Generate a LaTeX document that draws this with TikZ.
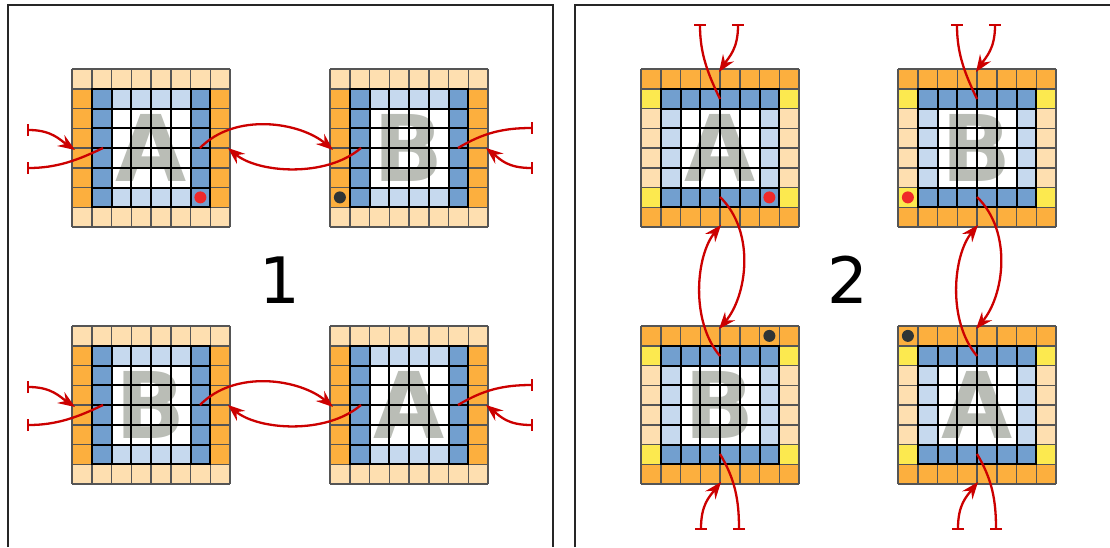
\documentclass[tikz,border=0pt]{standalone}
\usepackage{fontspec}
\newfontfamily\dvs{DejaVu Sans}
\usetikzlibrary{arrows.meta}
\definecolor{lorange}{HTML}{FEDFB0}
\definecolor{morange}{HTML}{FCAF3E}
\definecolor{dblue}{HTML}{729FCF}
\definecolor{lblue}{HTML}{C6D9EE}
\definecolor{butter}{HTML}{FCE94F}
\definecolor{arrred}{HTML}{CC0000}
\definecolor{dotred}{HTML}{EF2929}
\definecolor{dotdark}{HTML}{2E3436}
\definecolor{lettergray}{HTML}{BABDB6}
\definecolor{cellgray}{HTML}{555555}
\def\cellsz{19.75}
\tikzset{
  cellline/.style={draw=cellgray, line width=1.5pt},
  innerline/.style={draw=black, line width=2pt, line cap=rect},
  letterstyle/.style={anchor=base, inner sep=0pt, text=lettergray, font=\dvs\bfseries\fontsize{92}{92}\selectfont},
  numstyle/.style={anchor=base, inner sep=0pt, font=\dvs\fontsize{64}{64}\selectfont},
  flow/.style={draw=arrred, line width=2.3pt},
  link/.style={flow, -{Stealth[length=17pt,width=13pt,inset=6pt]}},
  intip/.style={flow, {Bar[width=12pt]}-{Stealth[length=17pt,width=13pt,inset=6pt]}},
  outbar/.style={flow, -{Bar[width=12pt]}},
  frame/.style={draw=black!85, line width=1.5pt},
  reddot/.style={circle, fill=dotred, minimum size=12pt, inner sep=0pt},
  darkdot/.style={circle, fill=dotdark, minimum size=12pt, inner sep=0pt}
}
\newcommand\blk[7]{\fill[#1] ({#2+#4*\cellsz},{#3+#5*\cellsz}) rectangle ({#2+#6*\cellsz},{#3+#7*\cellsz});}
\newcommand\gridlines[2]{%
  \foreach \k in {0,...,8} {
    \draw[cellline] ({#1+\k*\cellsz},{#2}) -- ({#1+\k*\cellsz},{#2+8*\cellsz});
    \draw[cellline] ({#1},{#2+\k*\cellsz}) -- ({#1+8*\cellsz},{#2+\k*\cellsz});
  }
  \foreach \k in {1,...,7} {
    \draw[innerline] ({#1+\k*\cellsz},{#2+\cellsz}) -- ({#1+\k*\cellsz},{#2+7*\cellsz});
    \draw[innerline] ({#1+\cellsz},{#2+\k*\cellsz}) -- ({#1+7*\cellsz},{#2+\k*\cellsz});
  }
}
\newcommand\gridH[4]{%
  \blk{lorange}{#1}{#2}{0}{0}{8}{8}
  \blk{morange}{#1}{#2}{0}{1}{8}{7}
  \blk{dblue}{#1}{#2}{1}{1}{7}{7}
  \blk{lblue}{#1}{#2}{2}{1}{6}{7}
  \blk{white}{#1}{#2}{2}{2}{6}{6}
  \node[letterstyle] (#4) at ({#1+4*\cellsz},{#2+4*\cellsz+33.5}) {#3};
  \gridlines{#1}{#2}
}
\newcommand\gridV[4]{%
  \blk{morange}{#1}{#2}{0}{0}{8}{8}
  \blk{lorange}{#1}{#2}{0}{1}{8}{7}
  \blk{butter}{#1}{#2}{0}{1}{1}{2}
  \blk{butter}{#1}{#2}{7}{1}{8}{2}
  \blk{butter}{#1}{#2}{0}{6}{1}{7}
  \blk{butter}{#1}{#2}{7}{6}{8}{7}
  \blk{dblue}{#1}{#2}{1}{1}{7}{7}
  \blk{lblue}{#1}{#2}{1}{2}{7}{6}
  \blk{white}{#1}{#2}{2}{2}{6}{6}
  \node[letterstyle] (#4) at ({#1+4*\cellsz},{#2+4*\cellsz+33.5}) {#3};
  \gridlines{#1}{#2}
}
\newcommand\coordsH[3]{%
  \coordinate (#1Lin) at ({#2+3},{#3+81});
  \coordinate (#1Lout) at ({#2+31},{#3+79});
  \coordinate (#1Rout) at ({#2+128},{#3+79});
  \coordinate (#1Rin) at ({#2+156},{#3+79});
  \coordinate (#1barU) at ({#2-45},{#3+61});
  \coordinate (#1barD) at ({#2-45},{#3+99});
  \coordinate (#1barRU) at ({#2+203},{#3+59});
  \coordinate (#1barRD) at ({#2+203},{#3+99});
}
\newcommand\coordsV[3]{%
  \coordinate (#1Tin) at ({#2+78},{#3+3});
  \coordinate (#1Tout) at ({#2+79},{#3+30});
  \coordinate (#1Bout) at ({#2+79},{#3+128});
  \coordinate (#1Bin) at ({#2+80},{#3+156});
  \coordinate (#1barTL) at ({#2+59},{#3-45});
  \coordinate (#1barTR) at ({#2+97},{#3-45});
  \coordinate (#1barBL) at ({#2+60},{#3+204});
  \coordinate (#1barBR) at ({#2+98},{#3+204});
}
% style, x0, y0, col, row, name
\newcommand\celldot[6]{\node[#1] (#6) at ({#2+(#4+0.5)*\cellsz},{#3+(#5+0.5)*\cellsz}) {};}
\begin{document}
\begin{tikzpicture}[x=1pt,y=-1pt]
  \fill[white] (0,0) rectangle (1110,547);
  \useasboundingbox (0,0) rectangle (1110,547);
  % frames
  \draw[frame] (8,547) -- (8,5) -- (553,5) -- (553,547);
  \draw[frame] (575,547) -- (575,5) -- (1110,5);
  % panel 1 grids
  \gridH{72}{69}{A}{LA1}
  \gridH{330}{69}{B}{LB1}
  \gridH{72}{326}{B}{LB2}
  \gridH{330}{326}{A}{LA2}
  % panel 2 grids
  \gridV{641}{69}{A}{LA3}
  \gridV{898}{69}{B}{LB3}
  \gridV{641}{326}{B}{LB4}
  \gridV{898}{326}{A}{LA4}
  % dots
  \celldot{reddot}{72}{69}{6}{6}{d1}
  \celldot{darkdot}{330}{69}{0}{6}{d2}
  \celldot{reddot}{641}{69}{6}{6}{d3}
  \celldot{reddot}{898}{69}{0}{6}{d4}
  \celldot{darkdot}{641}{326}{6}{0}{d5}
  \celldot{darkdot}{898}{326}{0}{0}{d6}
  % numbers
  \node[numstyle] (n1) at (280,303) {1};
  \node[numstyle] (n2) at (848,303) {2};
  % coordinates
  \coordsH{pa}{72}{69}
  \coordsH{pb}{330}{69}
  \coordsH{pc}{72}{326}
  \coordsH{pd}{330}{326}
  \coordsV{qa}{641}{69}
  \coordsV{qb}{641}{326}
  \coordsV{qc}{898}{69}
  \coordsV{qd}{898}{326}
  % panel 1 connectors
  \foreach \u/\w in {pa/pb, pc/pd} {
    \draw[intip] (\u barU) .. controls +(25,0) and +(-15,-10) .. (\u Lin);
    \draw[outbar] (\u Lout) .. controls +(-25,12) and +(30,0) .. (\u barD);
    \draw[link] (\u Rout) .. controls +(35,-36) and +(-33,-28) .. (\w Lin);
    \draw[link] (\w Lout) .. controls +(-35,30) and +(30,25) .. (\u Rin);
    \draw[outbar] (\w Rout) .. controls +(25,-15) and +(-30,0) .. (\w barRU);
    \draw[intip] (\w barRD) .. controls +(-25,0) and +(15,12) .. (\w Rin);
  }
  % panel 2 connectors
  \foreach \u/\w in {qa/qb, qc/qd} {
    \draw[outbar] (\u Tout) .. controls +(-12,-25) and +(0,30) .. (\u barTL);
    \draw[intip] (\u barTR) .. controls +(0,25) and +(10,-15) .. (\u Tin);
    \draw[link] (\u Bout) .. controls +(36,35) and +(28,-33) .. (\w Tin);
    \draw[link] (\w Tout) .. controls +(-30,-35) and +(-25,30) .. (\u Bin);
    \draw[outbar] (\w Bout) .. controls +(15,25) and +(0,-30) .. (\w barBR);
    \draw[intip] (\w barBL) .. controls +(0,-25) and +(-12,15) .. (\w Bin);
  }
\end{tikzpicture}
\end{document}
